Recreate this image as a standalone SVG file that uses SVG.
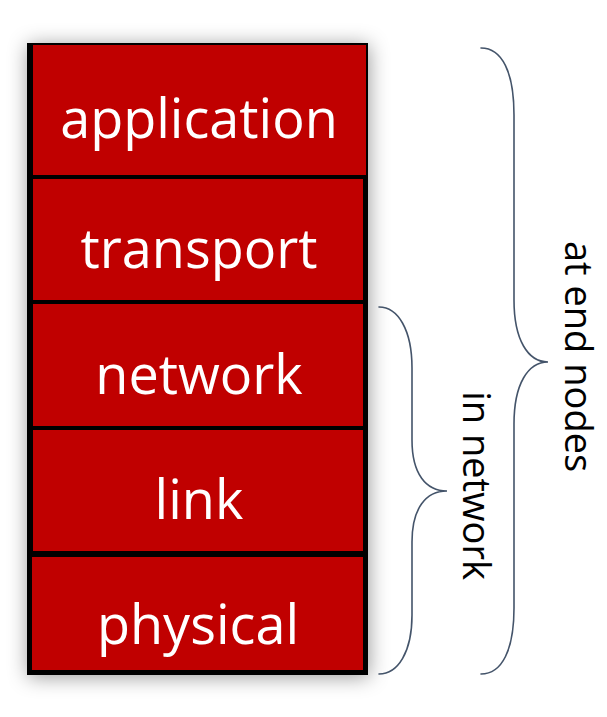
<svg xmlns="http://www.w3.org/2000/svg" width="607" height="717" viewBox="0 0 607 717">
  <style>
    .layer { fill: #C00000; }
    .lbl { font-family: "Open Sans", "Noto Sans", sans-serif; font-size: 54px; fill: #FFFFFF; text-anchor: middle; }
    .brace { fill: none; stroke: #44546A; stroke-width: 1.6; stroke-linecap: round; }
    .side { font-family: "Open Sans", "Noto Sans", sans-serif; font-size: 38px; fill: #000000; text-anchor: middle; }
  </style>
  <defs>
    <filter id="shadow" x="-20%" y="-20%" width="140%" height="140%">
      <feDropShadow dx="1" dy="2" stdDeviation="10" flood-color="#000000" flood-opacity="0.4"/>
    </filter>
  </defs>
  <rect x="0" y="0" width="607" height="717" fill="#FFFFFF"/>
  <g id="stack">
    <rect id="frame" x="27" y="43" width="341" height="632" fill="#000000" filter="url(#shadow)"/>
    <g id="application">
      <rect class="layer" x="33" y="45" width="333" height="130"/>
      <text class="lbl" x="199" y="138">application</text>
    </g>
    <g id="transport">
      <rect class="layer" x="33" y="179" width="330" height="121"/>
      <text class="lbl" x="199" y="268">transport</text>
    </g>
    <g id="network">
      <rect class="layer" x="33" y="304" width="330" height="122"/>
      <text class="lbl" x="199" y="394">network</text>
    </g>
    <g id="link">
      <rect class="layer" x="33" y="430" width="330" height="121"/>
      <text class="lbl" x="199" y="519">link</text>
    </g>
    <g id="physical">
      <rect class="layer" x="32" y="557" width="331" height="113"/>
      <text class="lbl" x="198" y="644">physical</text>
    </g>
  </g>
  <g id="connectors">
    <path class="brace" d="M481,48 C502,48 514,72 514,115 L514,300 C514,340 528,362 548,362 C528,362 514,384 514,424 L514,608 C514,650 502,674 481,674"/>
    <path class="brace" d="M379,307 C398,307 412,330 412,368 L412,440 C412,474 426,491 447,491 C426,491 412,508 412,542 L412,615 C412,652 398,674 379,674"/>
  </g>
  <g id="label-end-nodes">
    <text class="side" transform="translate(565,356.5) rotate(90)" x="0" y="0">at end nodes</text>
  </g>
  <g id="label-in-network">
    <text class="side" transform="translate(463,485.5) rotate(90)" x="0" y="0">in network</text>
  </g>
</svg>
